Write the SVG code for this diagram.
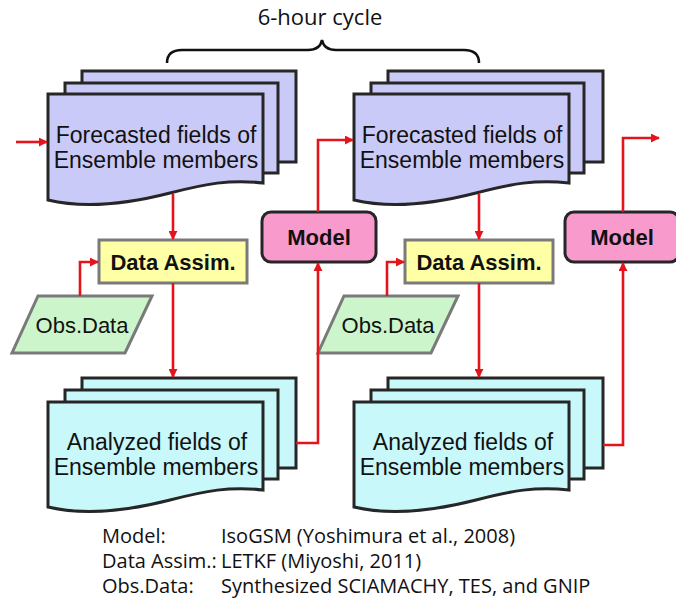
<svg xmlns="http://www.w3.org/2000/svg" width="676" height="602" viewBox="0 0 676 602">
<style>
.sheetF{fill:#CACAF8;stroke:#262626;stroke-width:3;stroke-linejoin:miter}
.sheetA{fill:#C8F8FA;stroke:#262626;stroke-width:3;stroke-linejoin:miter}
.lbl{font-family:"Liberation Sans",Arial,sans-serif;font-size:23px;fill:#111;text-anchor:middle}
.bold{font-family:"Liberation Sans",Arial,sans-serif;font-size:22px;font-weight:bold;fill:#111;text-anchor:middle}
.obst{font-family:"Liberation Sans",Arial,sans-serif;font-size:22px;fill:#111;text-anchor:middle}
.obs{fill:#CCF5CC;stroke:#7a7a7a;stroke-width:3}
.da{fill:#FFFFA6;stroke:#7a7a7a;stroke-width:3}
.model{fill:#F99ACD;stroke:#262626;stroke-width:3}
.red{fill:none;stroke:#E3141B;stroke-width:2.6}
.note{font-family:"Open Sans","Noto Sans",sans-serif;font-size:20px;fill:#111}
</style>
<defs>
<marker id="ah" viewBox="0 0 10 10" refX="9" refY="5" markerWidth="9" markerHeight="9" markerUnits="userSpaceOnUse" orient="auto">
<path d="M0,0 L10,5 L0,10 z" fill="#E3141B"/>
</marker>
</defs>

<text x="320" y="25" font-family="'Open Sans','Noto Sans',sans-serif" font-size="22" fill="#111" text-anchor="middle">6-hour cycle</text>
<path d="M167,63 Q167,50 182,50 H308 Q320,50 322,40 Q324,50 336,50 H464 Q479,50 479,63" fill="none" stroke="#111" stroke-width="2.5"/>

<g id="forecast1">
<rect class="sheetF" x="82" y="71" width="214" height="91"/>
<rect class="sheetF" x="65" y="83" width="213" height="90"/>
<path class="sheetF" d="M48,94 H263 V183 C230,179 205,184 170,193 S90,210 48,200 Z"/>
<text class="lbl" x="156" y="143">Forecasted fields of</text>
<text class="lbl" x="156" y="168">Ensemble members</text>
</g>

<g id="forecast2">
<rect class="sheetF" x="388" y="71" width="215" height="91"/>
<rect class="sheetF" x="371" y="83" width="213" height="90"/>
<path class="sheetF" d="M354,94 H569 V183 C536,179 511,184 476,193 S396,210 354,200 Z"/>
<text class="lbl" x="462" y="143">Forecasted fields of</text>
<text class="lbl" x="462" y="168">Ensemble members</text>
</g>

<g id="analyzed1">
<rect class="sheetA" x="82" y="378" width="214" height="90"/>
<rect class="sheetA" x="65" y="390" width="213" height="89"/>
<path class="sheetA" d="M48,402 H263 V490 C230,486 205,491 170,500 S90,517 48,507 Z"/>
<text class="lbl" x="157" y="450">Analyzed fields of</text>
<text class="lbl" x="156" y="475">Ensemble members</text>
</g>

<g id="analyzed2">
<rect class="sheetA" x="388" y="378" width="215" height="90"/>
<rect class="sheetA" x="371" y="390" width="213" height="89"/>
<path class="sheetA" d="M354,402 H569 V490 C536,486 511,491 476,500 S396,517 354,507 Z"/>
<text class="lbl" x="463" y="450">Analyzed fields of</text>
<text class="lbl" x="462" y="475">Ensemble members</text>
</g>

<g id="dataassim1">
<rect class="da" x="99" y="240" width="148" height="43"/>
<text class="bold" x="173" y="270">Data Assim.</text>
</g>
<g id="dataassim2">
<rect class="da" x="405" y="240" width="148" height="43"/>
<text class="bold" x="479" y="270">Data Assim.</text>
</g>

<g id="obs1">
<polygon class="obs" points="38,296 152,296 125,353 12,353"/>
<text class="obst" x="82" y="333">Obs.Data</text>
</g>
<g id="obs2">
<polygon class="obs" points="344,296 458,296 431,353 318,353"/>
<text class="obst" x="388" y="333">Obs.Data</text>
</g>

<g id="model1">
<rect class="model" x="262" y="212" width="114" height="50" rx="9"/>
<text class="bold" x="319" y="245">Model</text>
</g>
<g id="model2">
<rect class="model" x="565" y="212" width="114" height="50" rx="9"/>
<text class="bold" x="622" y="245">Model</text>
</g>

<g id="connectors">
<path class="red" d="M16,142 H47" marker-end="url(#ah)"/>
<path class="red" d="M173,194 V239" marker-end="url(#ah)"/>
<path class="red" d="M173,283 V377" marker-end="url(#ah)"/>
<path class="red" d="M80,296 V262 H98" marker-end="url(#ah)"/>
<path class="red" d="M296,443 H318 V263" marker-end="url(#ah)"/>
<path class="red" d="M318,212 V140 H353" marker-end="url(#ah)"/>
<path class="red" d="M479,194 V239" marker-end="url(#ah)"/>
<path class="red" d="M479,283 V377" marker-end="url(#ah)"/>
<path class="red" d="M387,296 V262 H404" marker-end="url(#ah)"/>
<path class="red" d="M603,445 H623 V263" marker-end="url(#ah)"/>
<path class="red" d="M623,212 V138 H659" marker-end="url(#ah)"/>
</g>

<g id="notes">
<text class="note" x="102" y="543">Model:</text>
<text class="note" x="221" y="543">IsoGSM (Yoshimura et al., 2008)</text>
<text class="note" x="102" y="568">Data Assim.:</text>
<text class="note" x="221" y="568">LETKF (Miyoshi, 2011)</text>
<text class="note" x="102" y="593">Obs.Data:</text>
<text class="note" x="221" y="593">Synthesized SCIAMACHY, TES, and GNIP</text>
</g>
</svg>
